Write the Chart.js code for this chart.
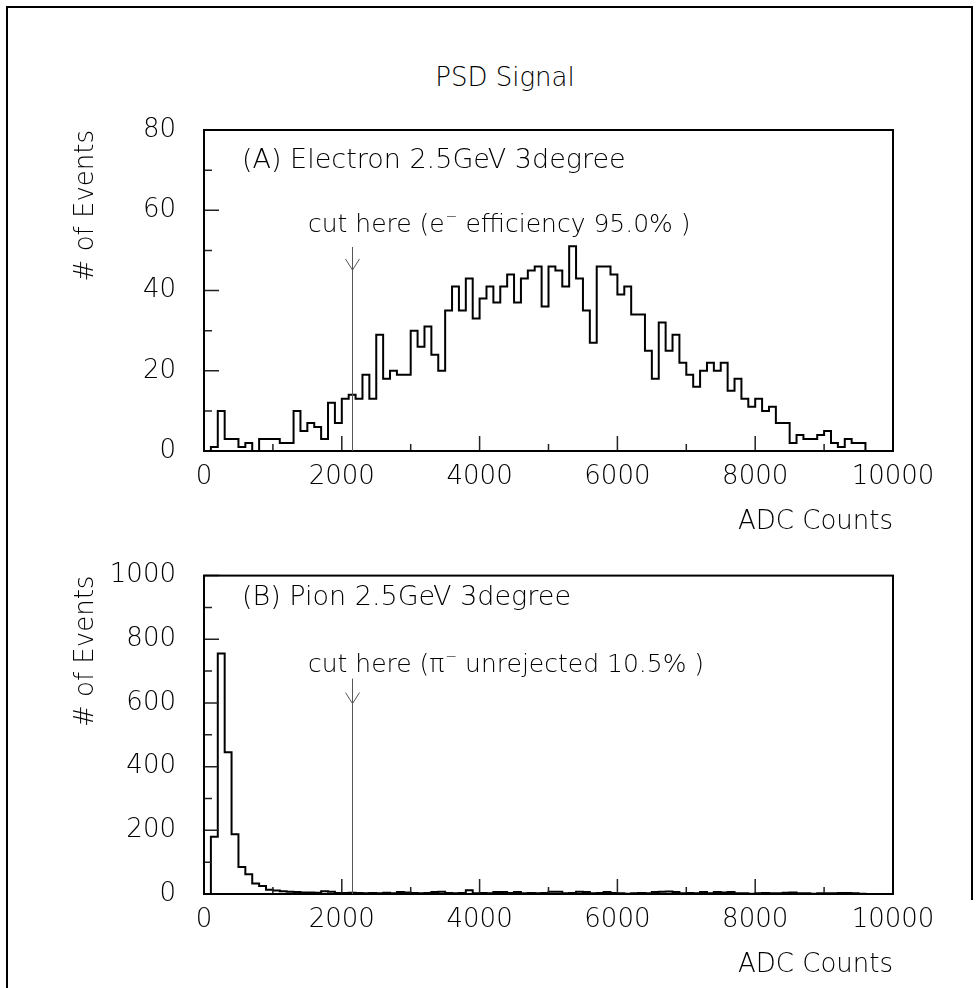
<!DOCTYPE html>
<html>
<head>
<meta charset="utf-8">
<script src="https://cdn.jsdelivr.net/npm/chart.js@4.4.0/dist/chart.umd.min.js"></script>
<style>
  html, body { margin: 0; padding: 0; background: #fff; }
  #page { position: relative; width: 980px; height: 988px; overflow: hidden; }
  .edge { position: absolute; background: #000; }
  #title { position: absolute; left: 15px; width: 980px; top: 62px; line-height: 30px;
           text-align: center; font: 200 26px 'DejaVu Sans', sans-serif; color: #000; }
  canvas { position: absolute; left: 0; }
</style>
</head>
<body>
<div id="page">
  <div class="edge" style="left:6px; top:6px; width:967px; height:2px;"></div>
  <div class="edge" style="left:6px; top:6px; width:2px; height:990px;"></div>
  <div class="edge" style="left:971px; top:6px; width:2px; height:894px;"></div>
  <div id="title">PSD Signal</div>
  <canvas id="chartA" width="980" height="540" style="top:0px"></canvas>
  <canvas id="chartB" width="980" height="448" style="top:540px"></canvas>
</div>
<script>
/* ---------- data: 100 ADC-count bins starting at 0 ---------- */
const binWidth = 100;

// (A) electrons, events per bin
const electronCounts = [
  0, 1, 10, 3, 3, 1, 2, 0, 3, 3,
  3, 2, 2, 10, 5, 7, 6, 3, 12, 7,
  13, 14, 13, 19, 13, 29, 18, 20, 19, 19,
  30, 26, 31, 24, 20, 35, 41, 35, 43, 33,
  38, 41, 37, 41, 44, 37, 43, 45, 46, 36,
  46, 45, 41, 51, 43, 35, 27, 46, 46, 44,
  39, 41, 34, 34, 25, 18, 32, 25, 29, 22,
  19, 16, 20, 22, 20, 22, 15, 18, 13, 11,
  13, 10, 11, 7, 7, 2, 4, 3, 3, 4,
  5, 2, 1, 3, 2, 2
];

// (B) pions, events per bin
const pionCounts = [
  0, 180, 755, 445, 188, 85, 62, 33, 25, 13,
  11, 9, 7, 6, 5, 5, 4, 9, 7, 3,
  3, 4, 3, 2, 3, 2, 4, 2, 6, 5,
  3, 2, 3, 6, 7, 3, 2, 3, 12, 2,
  3, 2, 6, 6, 3, 6, 2, 3, 2, 3,
  7, 7, 2, 3, 7, 6, 2, 3, 6, 3,
  2, 1, 2, 3, 2, 6, 7, 8, 6, 2,
  3, 2, 6, 2, 6, 5, 6, 2, 2, 1,
  2, 3, 2, 2, 4, 5, 2, 2, 1, 2,
  2, 2, 3, 3, 2, 1
];

const xTicks = [0, 2000, 4000, 6000, 8000, 10000];
const yTicksA = [0, 20, 40, 60, 80];
const yTicksB = [0, 200, 400, 600, 800, 1000];
const cutAdc = 2150;

const FONT = "'DejaVu Sans', sans-serif";
const tickFont = { family: FONT, size: 26, weight: '200' };

/* ---------- histogram outline points (left bin edges, stepped) ---------- */
function histPoints(counts) {
  const pts = [{ x: 0, y: 0 }];
  counts.forEach((c, i) => pts.push({ x: i * binWidth, y: c }));
  pts.push({ x: counts.length * binWidth, y: 0 });
  return pts;
}

/* ---------- frame, inner ticks, cut arrow, labels ---------- */
const pawPlugin = {
  id: 'paw',
  afterDatasetsDraw(chart, args, o) {
    const { ctx, chartArea: a, scales: { x, y } } = chart;
    ctx.save();

    // inner tick marks
    ctx.strokeStyle = '#222';
    ctx.lineWidth = 1.5;
    ctx.beginPath();
    for (let v = 0; v <= 10000; v += 1000) {
      const px = x.getPixelForValue(v);
      const len = v % 2000 === 0 ? 15 : 7;
      ctx.moveTo(px, a.bottom);
      ctx.lineTo(px, a.bottom - len);
    }
    for (let v = 0; v <= o.yMax; v += o.yMinor) {
      const py = y.getPixelForValue(v);
      const len = v % o.yMajor === 0 ? 15 : 8;
      ctx.moveTo(a.left, py);
      ctx.lineTo(a.left + len, py);
    }
    ctx.stroke();

    // frame
    ctx.strokeStyle = '#000';
    ctx.lineWidth = 2;
    ctx.strokeRect(a.left, a.top, a.right - a.left, a.bottom - a.top);

    // cut line + arrow
    const cx = Math.round(x.getPixelForValue(cutAdc)) + 0.5;
    ctx.strokeStyle = '#555';
    ctx.lineWidth = 1;
    ctx.beginPath();
    ctx.moveTo(cx, a.top + o.arrowTop);
    ctx.lineTo(cx, a.bottom);
    ctx.moveTo(cx - 7, a.top + o.arrowTip - 11);
    ctx.lineTo(cx, a.top + o.arrowTip);
    ctx.lineTo(cx + 7, a.top + o.arrowTip - 11);
    ctx.stroke();

    // texts
    ctx.fillStyle = '#000';
    ctx.textBaseline = 'alphabetic';
    ctx.textAlign = 'left';
    ctx.font = "200 27px " + FONT;
    ctx.fillText(o.label, a.left + 38, a.top + o.labelBase);

    ctx.font = "200 25px " + FONT;
    let tx = a.left + 104;
    const ty = a.top + o.cutBase;
    ctx.fillText(o.cutPre, tx, ty);
    tx += ctx.measureText(o.cutPre).width + 1;
    ctx.font = "200 14px " + FONT;
    ctx.fillText('\u2212', tx, ty - 11);
    tx += ctx.measureText('\u2212').width;
    ctx.font = "200 25px " + FONT;
    ctx.fillText(o.cutPost, tx, ty);

    ctx.restore();
  }
};

function makeChart(id, counts, p) {
  return new Chart(document.getElementById(id), {
    type: 'line',
    data: {
      datasets: [{
        data: histPoints(counts),
        stepped: 'before',
        borderColor: '#000',
        borderWidth: 2,
        pointRadius: 0,
        fill: false
      }]
    },
    options: {
      responsive: false,
      animation: false,
      layout: { padding: { top: p.padTop, left: 60, right: 87, bottom: 0 } },
      plugins: {
        legend: { display: false },
        tooltip: { enabled: false },
        paw: p
      },
      scales: {
        x: {
          type: 'linear', min: 0, max: 10000,
          afterFit: s => { s.height = p.xHeight; },
          afterBuildTicks: s => { s.ticks = xTicks.map(v => ({ value: v })); },
          grid: { display: false },
          border: { display: false },
          ticks: {
            padding: 3, color: '#000', font: tickFont, maxRotation: 0, autoSkip: false,
            callback: v => String(v)
          },
          title: {
            display: true, text: 'ADC Counts', align: 'end', color: '#000', font: tickFont,
            padding: { top: 0, bottom: p.xTitlePad }
          }
        },
        y: {
          type: 'linear', min: 0, max: p.yMax,
          afterFit: s => { s.width = 144; },
          afterBuildTicks: s => { s.ticks = p.yTicks.map(v => ({ value: v })); },
          grid: { display: false },
          border: { display: false },
          ticks: {
            padding: 20, color: '#000', font: tickFont, autoSkip: false,
            callback: v => String(v)
          },
          title: {
            display: true, text: '# of Events', align: 'end', color: '#000', font: tickFont,
            padding: { top: 11, bottom: 0 }
          }
        }
      }
    },
    plugins: [pawPlugin]
  });
}

makeChart('chartA', electronCounts, {
  padTop: 130, xHeight: 89, xTitlePad: 2,
  yMax: 80, yMajor: 20, yMinor: 10, yTicks: yTicksA,
  arrowTop: 117, arrowTip: 140,
  label: '(A) Electron 2.5GeV 3degree', labelBase: 38,
  cutPre: 'cut here (e', cutPost: ' efficiency 95.0% )', cutBase: 102
});

makeChart('chartB', pionCounts, {
  padTop: 34, xHeight: 94, xTitlePad: 7,
  yMax: 1000, yMajor: 200, yMinor: 100, yTicks: yTicksB,
  arrowTop: 103, arrowTip: 128,
  label: '(B) Pion 2.5GeV 3degree', labelBase: 29,
  cutPre: 'cut here (\u03c0', cutPost: ' unrejected 10.5% )', cutBase: 96
});
</script>
</body>
</html>
